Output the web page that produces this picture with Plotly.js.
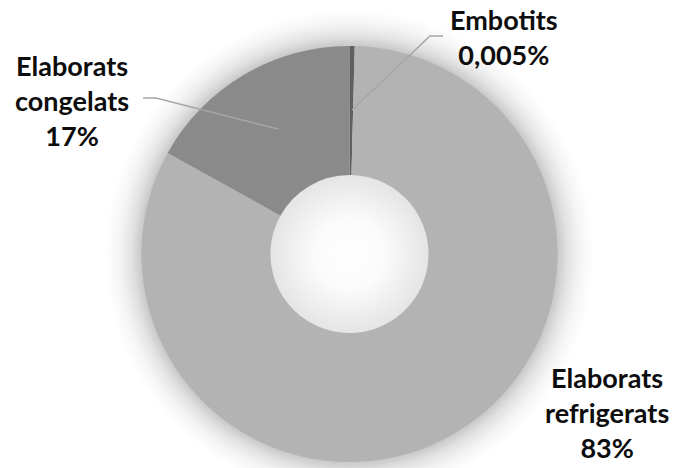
<!DOCTYPE html>
<html>
<head>
<meta charset="utf-8">
<script src="https://cdn.plot.ly/plotly-3.0.1.min.js"></script>
<style>
html,body{margin:0;padding:0;background:#fff;}
#chart{width:681px;height:468px;
  background: radial-gradient(circle at 349.5px 254px,
    #ffffff 0px, #fbfbfb 35px, #e4e4e4 80px, #c4c4c4 207px, #cbcbcb 209px,
    #e2e2e2 218px, #f4f4f4 230px, #ffffff 244px);
}
</style>
</head>
<body>
<div id="chart"></div>
<script>
// Data (clockwise from 12 o'clock)
const categories = ["Embotits", "Elaborats refrigerats", "Elaborats congelats"];
const labelLines = [["Embotits"], ["Elaborats", "refrigerats"], ["Elaborats", "congelats"]];
const values = [0.4, 83, 17];           // drawn shares (Embotits shows as a thin wedge)
const pctLabels = ["0,005%", "83%", "17%"];
const colors = ["#5f5f5f", "#b3b3b3", "#8a8a8a"];

const W = 681, H = 468;
const px = x => x / W;
const py = y => 1 - y / H;

// label anchor positions (pixels) and leader lines
const labelPos = [[504, 37], [607, 412], [72, 100]];
const leaders = [
  [[443, 36], [430, 36], [352, 110]],
  null,
  [[143, 98], [156, 98], [278, 129]]
];

const annotations = categories.map((c, i) => ({
  xref: "paper", yref: "paper",
  x: px(labelPos[i][0]), y: py(labelPos[i][1]),
  xanchor: "center", yanchor: "middle",
  text: labelLines[i].concat([pctLabels[i]]).map(s => "<b>" + s + "</b>").join("<br>"),
  showarrow: false,
  align: "center",
  font: {family: "Lato, 'Open Sans', sans-serif", size: 27, color: "#0d0d0d"}
}));

const shapes = leaders.filter(l => l).map(l => ({
  type: "path", xref: "paper", yref: "paper",
  path: l.map((p, j) => (j ? "L" : "M") + px(p[0]) + "," + py(p[1])).join(" "),
  line: {color: "#a6a6a6", width: 1.5}
}));

const cx = 349.5, cy = 254, R = 208;
const trace = {
  type: "pie",
  labels: categories,
  values: values,
  hole: 0.38,
  sort: false,
  direction: "clockwise",
  rotation: 0,
  textinfo: "none",
  marker: {colors: colors, line: {width: 0}},
  domain: {x: [px(cx - R), px(cx + R)], y: [py(cy + R), py(cy - R)]},
  showlegend: false,
  hoverinfo: "none"
};

Plotly.newPlot("chart", [trace], {
  width: W, height: H,
  margin: {l: 0, r: 0, t: 0, b: 0},
  paper_bgcolor: "rgba(0,0,0,0)",
  plot_bgcolor: "rgba(0,0,0,0)",
  showlegend: false,
  annotations: annotations,
  shapes: shapes
}, {displayModeBar: false, staticPlot: true});
</script>
</body>
</html>
